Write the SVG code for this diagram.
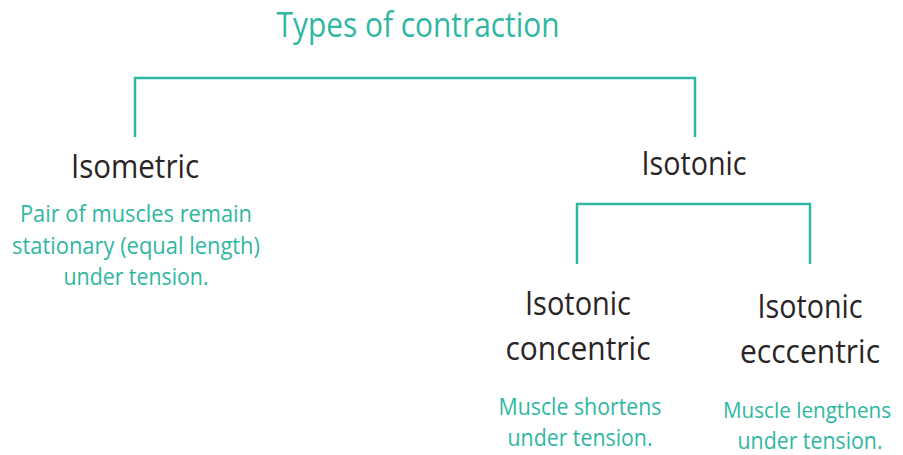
<svg xmlns="http://www.w3.org/2000/svg" width="903" height="455" viewBox="0 0 903 455">
<style>
.t{font-family:"Open Sans","Noto Sans",sans-serif;text-anchor:middle;}
.h{fill:#2b2427;font-size:33px;}
.d{fill:#2fb7a2;font-size:23px;}
.ti{fill:#2fb7a2;font-size:34px;}
.c{fill:none;stroke:#2fb7a2;stroke-width:2.5;}
</style>
<rect width="903" height="455" fill="#ffffff"/>
<g id="connectors">
<path class="c" d="M135,137 V78 H695 V137"/>
<path class="c" d="M577,264 V204 H810 V264"/>
</g>
<g id="title"><text class="t ti" x="418" y="37" textLength="283" lengthAdjust="spacingAndGlyphs">Types of contraction</text></g>
<g id="isometric">
<text class="t h" x="135" y="178" textLength="128" lengthAdjust="spacingAndGlyphs">Isometric</text>
<text class="t d" x="136" y="222" textLength="232" lengthAdjust="spacingAndGlyphs">Pair of muscles remain</text>
<text class="t d" x="136" y="254" textLength="248" lengthAdjust="spacingAndGlyphs">stationary (equal length)</text>
<text class="t d" x="136" y="285" textLength="145" lengthAdjust="spacingAndGlyphs">under tension.</text>
</g>
<g id="isotonic">
<text class="t h" x="694" y="175" textLength="105" lengthAdjust="spacingAndGlyphs">Isotonic</text>
</g>
<g id="concentric">
<text class="t h" x="578" y="315" textLength="106" lengthAdjust="spacingAndGlyphs">Isotonic</text>
<text class="t h" x="578" y="360" textLength="145" lengthAdjust="spacingAndGlyphs">concentric</text>
<text class="t d" x="580" y="415" textLength="163" lengthAdjust="spacingAndGlyphs">Muscle shortens</text>
<text class="t d" x="580" y="446" textLength="145" lengthAdjust="spacingAndGlyphs">under tension.</text>
</g>
<g id="eccentric">
<text class="t h" x="810" y="318" textLength="105" lengthAdjust="spacingAndGlyphs">Isotonic</text>
<text class="t h" x="810" y="363" textLength="140" lengthAdjust="spacingAndGlyphs">ecccentric</text>
<text class="t d" x="807" y="418" textLength="168" lengthAdjust="spacingAndGlyphs" style="font-size:22px">Muscle lengthens</text>
<text class="t d" x="810" y="449" textLength="145" lengthAdjust="spacingAndGlyphs">under tension.</text>
</g>
</svg>
